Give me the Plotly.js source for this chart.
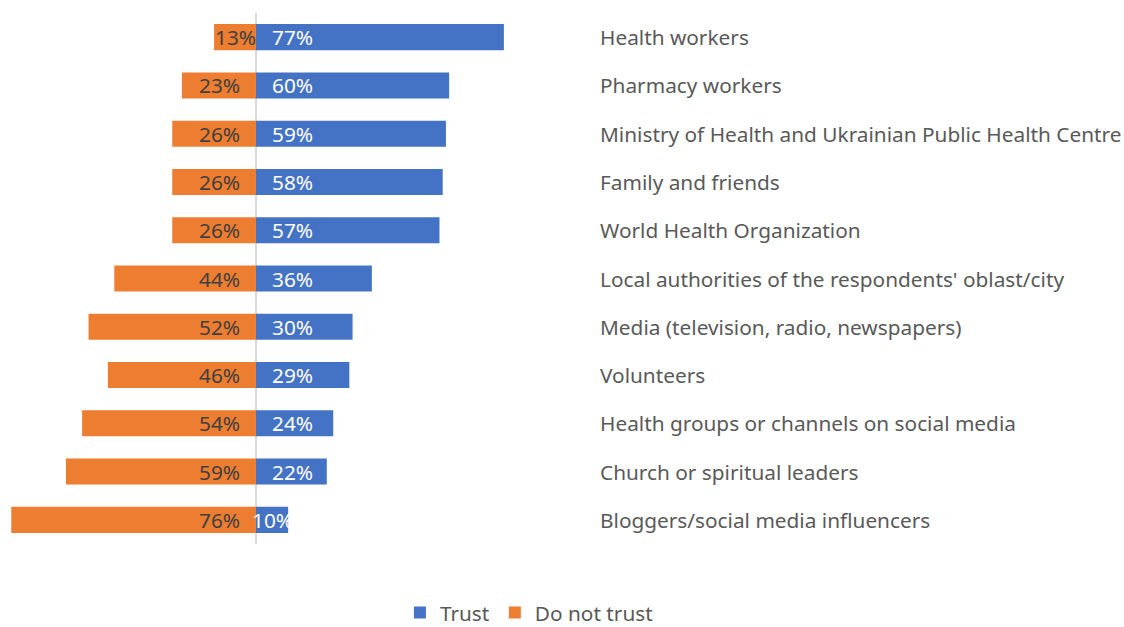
<!DOCTYPE html>
<html>
<head>
<meta charset="utf-8">
<script src="https://cdn.plot.ly/plotly-3.0.1.min.js"></script>
<style>html,body{margin:0;padding:0;background:#fff;}#chart{width:1124px;height:627px;}</style>
</head>
<body>
<div id="chart"></div>
<script>
const categories = [
  "Health workers",
  "Pharmacy workers",
  "Ministry of Health and Ukrainian Public Health Centre",
  "Family and friends",
  "World Health Organization",
  "Local authorities of the respondents' oblast/city",
  "Media (television, radio, newspapers)",
  "Volunteers",
  "Health groups or channels on social media",
  "Church or spiritual leaders",
  "Bloggers/social media influencers"
];
const trust = [77, 60, 59, 58, 57, 36, 30, 29, 24, 22, 10];
const distrust = [13, 23, 26, 26, 26, 44, 52, 46, 54, 59, 76];
const seriesNames = ["Trust", "Do not trust"];

const BLUE = "#4472C4", ORANGE = "#ED7D31";
const FONT = "Noto Sans, Open Sans, sans-serif";
const FS = 20.8;

const traces = [
  {type: "bar", orientation: "h", name: seriesNames[0], y: categories, x: trust,
   marker: {color: BLUE, line: {width: 0}}, hoverinfo: "skip"},
  {type: "bar", orientation: "h", name: seriesNames[1], y: categories, x: distrust.map(v => -v),
   marker: {color: ORANGE, line: {width: 0}}, hoverinfo: "skip"}
];

const annotations = [];
categories.forEach((c, i) => {
  annotations.push({x: 106.3, y: c, xref: "x", yref: "y", text: c, showarrow: false,
    xanchor: "left", font: {family: FONT, size: FS, color: "#595959"}});
  const t = trust[i];
  if (t < 15) {
    annotations.push({x: t / 2, y: c, text: t + "%", showarrow: false, xanchor: "center",
      font: {family: FONT, size: FS, color: "#ffffff"}});
  } else {
    annotations.push({x: 0, y: c, text: t + "%", showarrow: false, xanchor: "left", xshift: 14,
      font: {family: FONT, size: FS, color: "#ffffff"}});
  }
  const d = distrust[i];
  if (d < 15) {
    annotations.push({x: -d / 2, y: c, text: d + "%", showarrow: false, xanchor: "center",
      font: {family: FONT, size: FS, color: "#404040"}});
  } else {
    annotations.push({x: 0, y: c, text: d + "%", showarrow: false, xanchor: "right", xshift: -14,
      font: {family: FONT, size: FS, color: "#404040"}});
  }
});

const layout = {
  width: 1124, height: 627,
  margin: {l: 0, r: 0, t: 13, b: 83, pad: 0, autoexpand: false},
  paper_bgcolor: "#ffffff", plot_bgcolor: "#ffffff",
  barmode: "relative", bargap: 0.46,
  showlegend: true,
  legend: {orientation: "h", x: 0.471, xanchor: "center", y: -0.13, yanchor: "middle",
    font: {family: FONT, size: FS, color: "#595959"}, traceorder: "normal"},
  xaxis: {range: [-79.5, 269.6], showgrid: false, showticklabels: false, ticks: "",
    zeroline: true, zerolinecolor: "#d9d9d9", zerolinewidth: 2, fixedrange: true},
  yaxis: {type: "category", categoryorder: "array", categoryarray: categories,
    autorange: "reversed", showticklabels: false, ticks: "", showgrid: false, zeroline: false,
    fixedrange: true},
  annotations: annotations
};

Plotly.newPlot("chart", traces, layout, {displayModeBar: false, staticPlot: true});
</script>
</body>
</html>
